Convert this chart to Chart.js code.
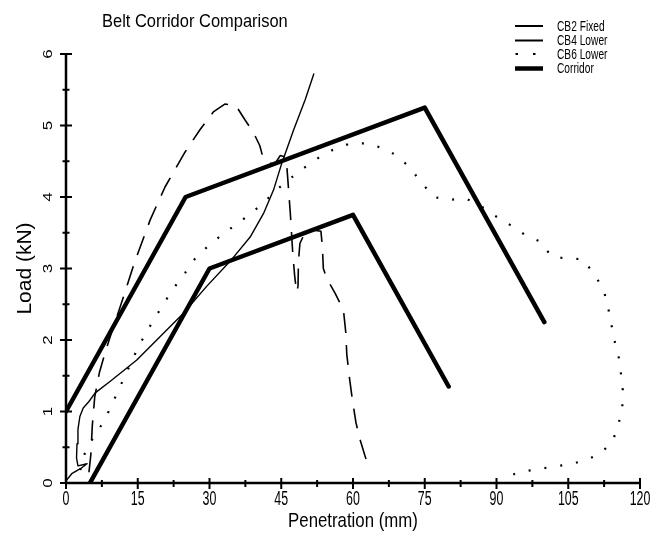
<!DOCTYPE html>
<html>
<head>
<meta charset="utf-8">
<script src="https://cdn.jsdelivr.net/npm/chart.js@4.4.0/dist/chart.umd.min.js"></script>
<style>
  html, body { margin: 0; padding: 0; background: #fff; }
  #wrap { width: 660px; height: 537px; position: relative; }
</style>
</head>
<body>
<div id="wrap"><canvas id="myChart"></canvas></div>
<script>
const FONT = "'Liberation Sans', Arial, sans-serif";

const xTickValues = [0, 15, 30, 45, 60, 75, 90, 105, 120];
const yTickValues = [0, 1, 2, 3, 4, 5, 6];
const xMinorValues = [7.5, 22.5, 37.5, 52.5, 67.5, 82.5, 97.5, 112.5];
const yMinorValues = [0.5, 1.5, 2.5, 3.5, 4.5, 5.5];

const seriesNames = ["CB2 Fixed", "CB4 Lower", "CB6 Lower", "Corridor"];

// [penetration mm, load kN]
const cb2Fixed = [
    [4.8, 0.15], [5.2, 0.4], [5.5, 0.8], [6.0, 1.2], [7.0, 1.55], [8.3, 1.85], [10, 2.2],
    [11.8, 2.56], [14.4, 3.1], [17.6, 3.68], [20.7, 4.14], [24.9, 4.63], [28, 4.94],
    [30.8, 5.19], [33.2, 5.3], [35.5, 5.28], [37.4, 5.08], [39.2, 4.9], [40.5, 4.72],
    [41.2, 4.55], [42, 4.5], [43.5, 4.45], [44.8, 4.58], [45.8, 4.56], [46.2, 4.4],
    [46.9, 3.77], [47.4, 3.22], [47.8, 2.9], [48.2, 2.67], [48.5, 2.75], [48.6, 3.1],
    [48.9, 3.35], [49.8, 3.48], [51.4, 3.54], [53.3, 3.52], [53.6, 3.3], [53.8, 3.0],
    [54.5, 2.86], [56.3, 2.65], [58.0, 2.42], [58.5, 2.1], [58.7, 1.8], [59.3, 1.45],
    [59.8, 1.2], [60.6, 0.85], [61.5, 0.6], [62.5, 0.38], [63.4, 0.2]
];
const cb4Lower = [
    [0, 0.03], [1.2, 0.13], [3, 0.2], [4.4, 0.27], [2.5, 0.24], [2.2, 0.35], [2.3, 0.55],
    [2.5, 0.75], [2.9, 0.93], [3.6, 1.05], [4.8, 1.14], [6.1, 1.26], [9.2, 1.42],
    [14.8, 1.72], [19.7, 2.05], [24.5, 2.37], [29.4, 2.75], [34.3, 3.1], [38.5, 3.44],
    [41.3, 3.77], [43.4, 4.1], [45.1, 4.47], [47.6, 4.94], [50, 5.36], [51.8, 5.72]
];
const cb6Lower = [
    [3, 0.18], [3.6, 0.37], [5.5, 0.61], [7.4, 0.81], [8.9, 1.0], [10.5, 1.23], [12, 1.45],
    [15.1, 1.9], [16.9, 2.12], [18.8, 2.33], [20.7, 2.54], [22.8, 2.75], [24.9, 2.94],
    [27, 3.14], [29.8, 3.32], [32.6, 3.47], [35.4, 3.61], [38.5, 3.76], [41.3, 3.92],
    [44.4, 4.12], [46.9, 4.26], [49.6, 4.4], [52.6, 4.54], [55.8, 4.66], [59.4, 4.75],
    [62.9, 4.75], [66.4, 4.68], [69.7, 4.56], [72.2, 4.38], [74.5, 4.19], [76.8, 4.0],
    [80.2, 3.96], [83.6, 3.98], [87, 3.86], [90.1, 3.72], [93.1, 3.6], [96.2, 3.46],
    [99.4, 3.37], [101.4, 3.17], [104.5, 3.14], [108.1, 3.13], [110.3, 2.93], [112.3, 2.72],
    [113.2, 2.5], [113.9, 2.26], [114.6, 2.01], [115.5, 1.78], [116, 1.54], [116.4, 1.3],
    [116.3, 1.06], [115.5, 0.82], [114.3, 0.59], [111.9, 0.42], [108.7, 0.32], [105.3, 0.26],
    [101.9, 0.23], [98.3, 0.19], [94.6, 0.15], [93.5, 0.12]
];
const corridorUpper = [[0, 1], [25, 4], [75, 5.25], [100, 2.25]];
const corridorLower = [[5, 0], [30, 3], [60, 3.75], [80, 1.35]];

const toPoints = (arr) => arr.map((p) => ({ x: p[0], y: p[1] }));

const lineStyles = [
    { width: 1.6, dash: [20, 12] },
    { width: 1.4, dash: [] },
    { width: 2.2, dash: [2, 14] },
    { width: 4.5, dash: [] },
];

const makeSet = (label, arr, style) => ({
    label: label,
    data: toPoints(arr),
    showLine: true,
    borderColor: "#000",
    backgroundColor: "#000",
    borderWidth: style.width,
    borderDash: style.dash,
    borderCapStyle: style.dash.length ? "butt" : "round",
    borderJoinStyle: "round",
    pointRadius: 0,
    tension: 0,
    fill: false,
});

// text squeezed sideways (sx) and optionally turned to read upwards
const drawText = (ctx, text, x, y, size, sx, upright, align) => {
    ctx.save();
    ctx.translate(x, y);
    ctx.scale(sx, 1);
    if (!upright) ctx.rotate(-Math.PI / 2);
    ctx.font = size + "px " + FONT;
    ctx.textAlign = align || "center";
    ctx.textBaseline = "alphabetic";
    ctx.fillText(text, 0, 0);
    ctx.restore();
};

// axis lines, ticks crossing both sides, labels, title and key
const decorations = {
    id: "decorations",
    afterDraw(chart) {
        const ctx = chart.ctx;
        const xs = chart.scales.x;
        const ys = chart.scales.y;
        const left = xs.left;
        const bottom = ys.bottom;
        ctx.save();
        ctx.strokeStyle = "#000";
        ctx.fillStyle = "#000";
        ctx.lineWidth = 2.5;
        ctx.lineCap = "butt";
        ctx.beginPath();
        ctx.moveTo(xs.left, bottom);
        ctx.lineTo(xs.right + 1, bottom);
        ctx.moveTo(left, ys.top - 1);
        ctx.lineTo(left, bottom);
        ctx.stroke();

        ctx.lineWidth = 2;
        ctx.beginPath();
        xTickValues.forEach((v) => {
            const px = xs.getPixelForValue(v);
            ctx.moveTo(px, bottom - 5);
            ctx.lineTo(px, bottom + 6);
        });
        xMinorValues.forEach((v) => {
            const px = xs.getPixelForValue(v);
            ctx.moveTo(px, bottom - 3);
            ctx.lineTo(px, bottom + 4);
        });
        yTickValues.forEach((v) => {
            const py = ys.getPixelForValue(v);
            ctx.moveTo(left - 6, py);
            ctx.lineTo(left + 6, py);
        });
        yMinorValues.forEach((v) => {
            const py = ys.getPixelForValue(v);
            ctx.moveTo(left - 3.5, py);
            ctx.lineTo(left + 3.5, py);
        });
        ctx.stroke();

        // tick labels
        xTickValues.forEach((v) => {
            drawText(ctx, String(v), xs.getPixelForValue(v), bottom + 22, 20, 0.62, true);
        });
        yTickValues.forEach((v) => {
            drawText(ctx, String(v), left - 14, ys.getPixelForValue(v), 17, 0.75, false);
        });

        // axis titles
        drawText(ctx, "Penetration (mm)", (xs.left + xs.right) / 2, bottom + 44, 21, 0.8, true);
        drawText(ctx, "Load (kN)", 31, (ys.top + ys.bottom) / 2, 21, 0.92, false);

        drawText(ctx, "Belt Corridor Comparison", 102, 27, 18.5, 0.89, true, "left");

        // key
        const keyLineY = [26, 40.5, 54, 68.5];
        const keyTextY = [30.8, 45, 59, 72.5];
        seriesNames.forEach((name, i) => {
            ctx.beginPath();
            ctx.lineWidth = i === 3 ? 4.5 : 2;
            if (i === 2) {
                ctx.setLineDash([2.5, 15]);
                ctx.lineDashOffset = -0.5;
            } else {
                ctx.setLineDash([]);
            }
            ctx.moveTo(515, keyLineY[i]);
            ctx.lineTo(543, keyLineY[i]);
            ctx.stroke();
            ctx.setLineDash([]);
            drawText(ctx, name, 557, keyTextY[i], 15, 0.68, true, "left");
        });
        ctx.restore();
    },
};

const config = {
    type: "scatter",
    data: {
        datasets: [
            makeSet(seriesNames[0], cb2Fixed, lineStyles[0]),
            makeSet(seriesNames[1], cb4Lower, lineStyles[1]),
            makeSet(seriesNames[2], cb6Lower, lineStyles[2]),
            makeSet(seriesNames[3], corridorUpper, lineStyles[3]),
            makeSet(seriesNames[3], corridorLower, lineStyles[3]),
        ],
    },
    options: {
        responsive: false,
        animation: false,
        layout: { padding: { left: 0, right: 20, top: 54, bottom: 0 } },
        plugins: {
            legend: { display: false },
            tooltip: { enabled: false },
            title: { display: false },
        },
        scales: {
            x: {
                type: "linear",
                min: 0,
                max: 120,
                afterBuildTicks: (scale) => {
                    scale.ticks = xTickValues.map((v) => ({ value: v }));
                },
                afterFit: (scale) => {
                    scale.height = 54;
                },
                grid: { display: false, drawTicks: false },
                border: { display: false },
                ticks: { display: false },
            },
            y: {
                type: "linear",
                min: 0,
                max: 6,
                afterBuildTicks: (scale) => {
                    scale.ticks = yTickValues.map((v) => ({ value: v }));
                },
                afterFit: (scale) => {
                    scale.width = 66;
                },
                grid: { display: false, drawTicks: false },
                border: { display: false },
                ticks: { display: false },
            },
        },
    },
    plugins: [decorations],
};

const canvas = document.getElementById("myChart");
canvas.width = 660;
canvas.height = 537;
const myChart = new Chart(canvas, config);
</script>
</body>
</html>
